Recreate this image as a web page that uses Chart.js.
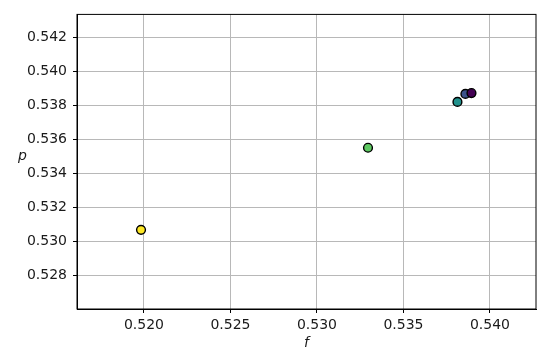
<!DOCTYPE html>
<html>
<head>
<meta charset="utf-8">
<script src="https://cdn.jsdelivr.net/npm/chart.js@4"></script>
<style>
  html, body { margin: 0; padding: 0; background: #fff; }
  #wrap { width: 550px; height: 355px; }
</style>
</head>
<body>
<div id="wrap"><canvas id="chart"></canvas></div>
<script>
// values
var fValues = [0.51983, 0.53295, 0.53812, 0.53858, 0.53893];
var pValues = [0.53068, 0.53551, 0.53821, 0.53868, 0.53873];
var pointColors = ['#fde725', '#5ec962', '#21918c', '#3b528b', '#440154'];

var xTicks = [0.520, 0.525, 0.530, 0.535, 0.540];
var yTicks = [0.528, 0.530, 0.532, 0.534, 0.536, 0.538, 0.540, 0.542];

var xRange = [0.51613, 0.54266];
var yRange = [0.52602, 0.54336];

var xLabel = 'f';
var yLabel = 'p';

var points = fValues.map(function (f, i) {
  return { x: f, y: pValues[i] };
});

var font = { family: 'DejaVu Sans', size: 14 };
var textColor = '#1a1a1a';

// box around the plot area, like the matplotlib frame,
// plus the upright y label (chart.js would rotate it)
var frame = {
  id: 'frame',
  afterDraw: function (chart) {
    var a = chart.chartArea;
    var ctx = chart.ctx;
    ctx.save();
    ctx.strokeStyle = '#000';
    ctx.lineWidth = 1;
    ctx.strokeRect(a.left, a.top, a.right - a.left, a.bottom - a.top);

    ctx.fillStyle = textColor;
    ctx.font = 'italic 14px "DejaVu Sans"';
    ctx.textAlign = 'right';
    ctx.textBaseline = 'bottom';
    ctx.fillText(yLabel, 27, (a.top + a.bottom) / 2 + 2);
    ctx.restore();
  }
};

new Chart(document.getElementById('chart'), {
  type: 'scatter',
  data: {
    datasets: [{
      data: points,
      pointBackgroundColor: pointColors,
      pointBorderColor: '#000',
      pointBorderWidth: 1.4,
      pointRadius: 4.4,
      pointHoverRadius: 4.4
    }]
  },
  options: {
    responsive: true,
    maintainAspectRatio: false,
    animation: false,
    events: [],
    layout: { padding: { top: 11, right: 14, left: 0, bottom: 0 } },
    plugins: {
      legend: { display: false },
      tooltip: { enabled: false }
    },
    scales: {
      x: {
        type: 'linear',
        min: xRange[0],
        max: xRange[1],
        afterFit: function (s) { s.height = 46; },
        afterBuildTicks: function (s) {
          s.ticks = xTicks.map(function (v) { return { value: v }; });
        },
        ticks: {
          font: font,
          color: textColor,
          padding: 4,
          maxRotation: 0,
          callback: function (v) { return v.toFixed(3); }
        },
        grid: {
          color: '#b8b8b8',
          lineWidth: 1,
          tickColor: '#000',
          tickLength: 4
        },
        border: { color: '#000', width: 1 },
        title: {
          display: true,
          text: xLabel,
          font: { family: 'DejaVu Sans', size: 14, style: 'italic' },
          color: textColor,
          padding: { top: 0, bottom: 3 }
        }
      },
      y: {
        type: 'linear',
        min: yRange[0],
        max: yRange[1],
        afterFit: function (s) { s.width = 77; },
        afterBuildTicks: function (s) {
          s.ticks = yTicks.map(function (v) { return { value: v }; });
        },
        ticks: {
          font: font,
          color: textColor,
          padding: 6,
          callback: function (v) { return v.toFixed(3); }
        },
        grid: {
          color: '#b8b8b8',
          lineWidth: 1,
          tickColor: '#000',
          tickLength: 4
        },
        border: { color: '#000', width: 1 },
        title: { display: false }
      }
    }
  },
  plugins: [frame]
});
</script>
</body>
</html>
